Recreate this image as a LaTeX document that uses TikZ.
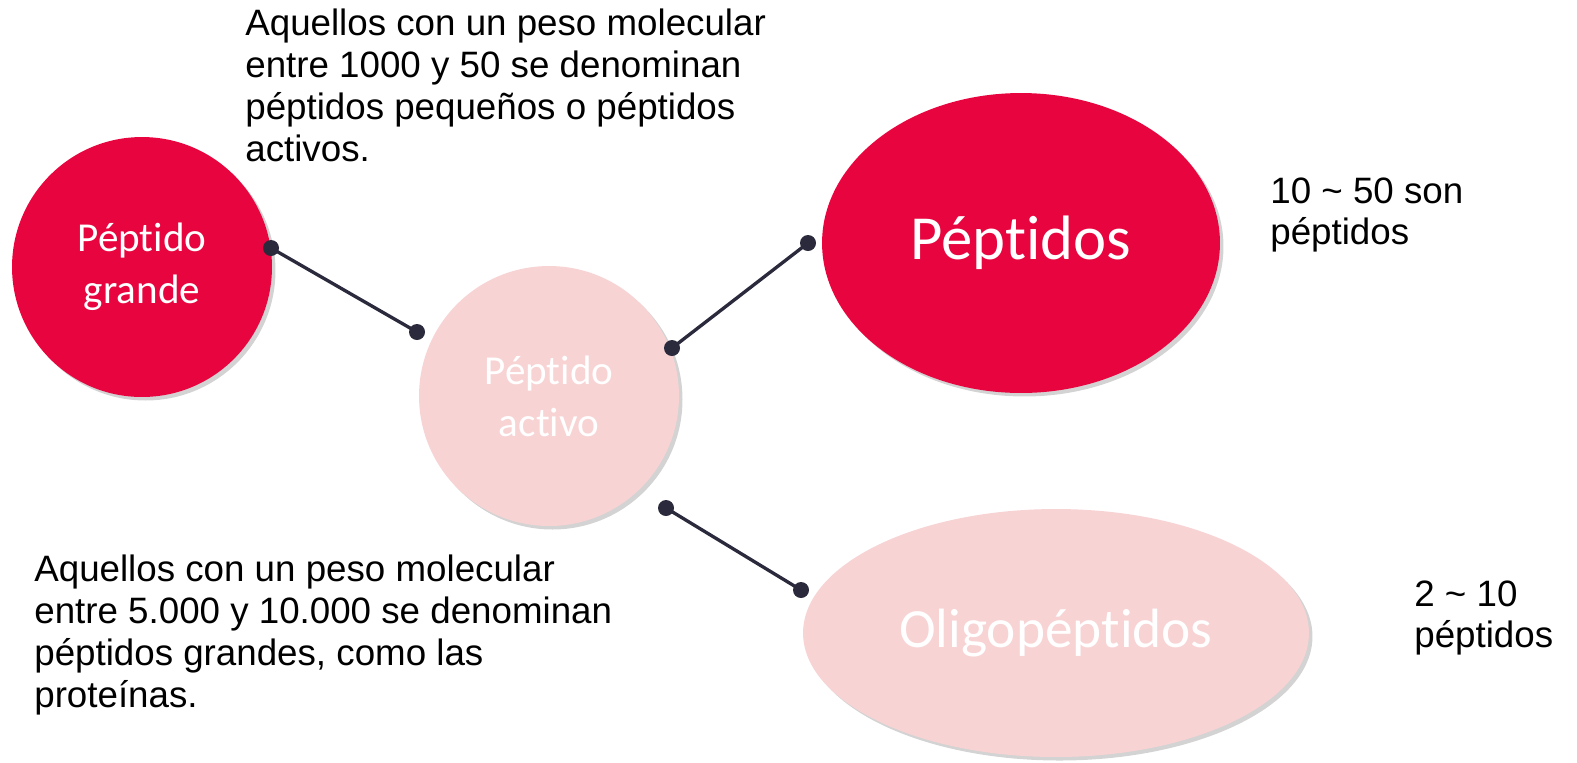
\documentclass[tikz,border=0pt]{standalone}
\usepackage{fontspec}
\setmainfont{Liberation Sans}
\newfontfamily\calfont[RawFeature={-liga;-calt;-dlig;-clig}]{Carlito}
\usetikzlibrary{shapes.geometric,shadows}
\definecolor{pepred}{HTML}{E8053F}
\definecolor{peppink}{HTML}{F8D3D4}
\definecolor{linkdark}{HTML}{2B2A3D}
\tikzset{
  blob/.style={draw=none,text=white,align=center,inner sep=0pt,
    drop shadow={shadow xshift=2pt,shadow yshift=-2pt,opacity=0.35}},
  note/.style={anchor=north west,align=left,inner sep=0pt,
    font=\fontsize{20.9}{23.8}\selectfont},
  link/.style={draw=linkdark,line width=1.9pt},
  dot/.style={fill=linkdark},
}

\begin{document}
\begin{tikzpicture}[x=0.02cm,y=-0.02cm]
      \useasboundingbox (0,0) rectangle (1577,762);
      % circles and ellipses
      \node[blob,circle,fill=pepred,minimum size=5.2cm,font=\calfont\fontsize{23.4}{29.5}\selectfont] (grande) at (142,267) {Péptido\\grande};
      \node[blob,circle,fill=peppink,minimum size=5.2cm,font=\calfont\fontsize{23.4}{29.5}\selectfont] (activo) at (549,396) {Péptido\\activo};
      \node[blob,ellipse,fill=pepred,minimum width=7.96cm,minimum height=6cm,font=\calfont\fontsize{35.7}{40}\selectfont] (peps) at (1021,243) {Péptidos};
      \node[blob,ellipse,fill=peppink,minimum width=10.12cm,minimum height=4.96cm,font=\calfont\fontsize{31.5}{36}\selectfont] (oligo) at (1056,633) {Oligopéptidos};
      % connectors
      \coordinate (g1) at (271,248);
      \coordinate (a1) at (417,332);
      \coordinate (a2) at (672,348);
      \coordinate (p1) at (808,243);
      \coordinate (a3) at (666,508);
      \coordinate (o1) at (801,590);
      \draw[link] (g1)--(a1);
      \draw[link] (a2)--(p1);
      \draw[link] (a3)--(o1);
      \foreach \c in {g1,a1,a2,p1,a3,o1}
        \fill[dot] (\c) circle (8);
      % notes
      \node[note] (topnote) at (245,9) {Aquellos con un peso molecular\\entre 1000 y 50 se denominan\\péptidos pequeños o péptidos\\activos.};
      \node[note] (botnote) at (34,555) {Aquellos con un peso molecular\\entre 5.000 y 10.000 se denominan\\péptidos grandes, como las\\proteínas.};
      \node[note] (pepnote) at (1270,177) {10 \textasciitilde{} 50 son\\péptidos};
      \node[note] (oligonote) at (1414,580) {2 \textasciitilde{} 10\\péptidos};
\end{tikzpicture}
\end{document}
